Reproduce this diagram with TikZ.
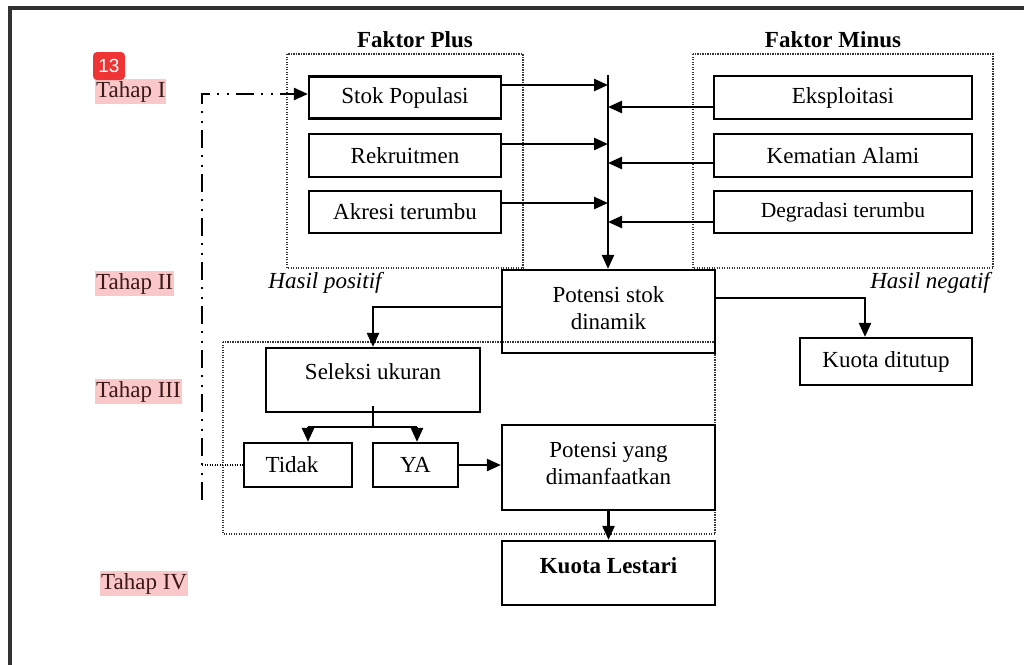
\documentclass[tikz,border=0pt]{standalone}
\usepackage{fontspec}
\setmainfont{Liberation Serif}
\newfontfamily\badgefont{Liberation Sans}
\usetikzlibrary{arrows.meta}
\definecolor{hl}{RGB}{250,200,200}
\definecolor{hltext}{RGB}{60,25,25}
\definecolor{badge}{RGB}{238,52,52}
\definecolor{frame}{RGB}{50,50,50}
\tikzset{
  box/.style={draw, line width=2.2pt, inner sep=0pt, font=\fontsize{23}{27}\selectfont, align=center},
  txt/.style={inner sep=0pt, font=\fontsize{23}{27}\selectfont, align=center},
  conn/.style={line width=2.4pt},
  arr/.style={line width=2.4pt, -{Triangle[length=14pt,width=12pt]}},
  dotbox/.style={line width=1.4pt, draw=black!80, dash pattern=on 1.3pt off 1.2pt},
  dashdd/.style={line width=2.6pt, dash pattern=on 18pt off 7pt on 2pt off 8pt on 2pt off 7pt},
  tahap/.style={fill=hl, text=hltext, inner xsep=1pt, inner ysep=2pt, anchor=west, font=\fontsize{23}{27}\selectfont},
  title/.style={inner sep=0pt, font=\fontsize{23}{27}\selectfont\bfseries},
  hasil/.style={inner sep=0pt, font=\fontsize{23}{27}\selectfont\itshape}
}
\begin{document}
\begin{tikzpicture}[x=1pt,y=-1pt]
\useasboundingbox (0,0) rectangle (1024,664);
\clip (0,0) rectangle (1024,664);
% outer frame
\draw[line width=3.2pt, draw=frame] (1030,8) -- (10,8) -- (10,670);
% dotted group boxes
\draw[dotbox] (287,54) rectangle (523,268);
\draw[dotbox] (693,54) rectangle (993,268);
\draw[dotbox] (223,342) rectangle (715,534);
% titles
\node[title] (fplus) at (415,40) {Faktor Plus};
\node[title] (fminus) at (833,40) {Faktor Minus};
% plus boxes
\node[box, minimum width=192pt, minimum height=42pt] (stok) at (405,97.5) {Stok Populasi};
\node[box, minimum width=192pt, minimum height=43pt] (rek) at (405,155.5) {Rekruitmen};
\node[box, minimum width=192pt, minimum height=42pt] (akr) at (405,212) {Akresi terumbu};
% minus boxes
\node[box, minimum width=258pt, minimum height=43pt] (eks) at (843,97.5) {Eksploitasi};
\node[box, minimum width=258pt, minimum height=43pt] (kem) at (843,155.5) {Kematian Alami};
\node[box, minimum width=258pt, minimum height=42pt, font=\fontsize{21.5}{25}\selectfont] (deg) at (843,212) {Degradasi terumbu};
% central boxes
\node[box, minimum width=213pt, minimum height=83pt] (pot) at (608.5,311.5) {};
\node[txt] (pottxt) at ([yshift=3pt]pot.center) {Potensi stok\\dinamik};
\node[box, minimum width=172pt, minimum height=47pt] (kd) at (886,361.5) {Kuota ditutup};
\node[box, minimum width=214pt, minimum height=64pt] (sel) at (373,380) {};
\node[txt] (seltxt) at ([yshift=8pt]sel.center) {Seleksi ukuran};
\node[box, minimum width=108pt, minimum height=44pt] (tidak) at (298,465) {\hspace*{-12pt}Tidak};
\node[box, minimum width=85pt, minimum height=44pt] (ya) at (415.5,465) {YA};
\node[box, minimum width=213pt, minimum height=85pt] (pym) at (608.5,467.5) {};
\node[txt] (pymtxt) at ([yshift=4pt]pym.center) {Potensi yang\\dimanfaatkan};
\node[box, minimum width=213pt, minimum height=64pt] (kl) at (608.5,573) {};
\node[txt, font=\fontsize{23}{27}\selectfont\bfseries] (kltxt) at ([yshift=7pt]kl.center) {Kuota Lestari};
% hasil labels
\node[hasil] (hpos) at (325,283) {Hasil positif};
\node[hasil, anchor=east] (hneg) at (990,283) {Hasil negatif};
% tahap labels
\node[tahap] (t1) at (95,91.5) {Tahap I};
\node[tahap] (t2) at (95,283.5) {Tahap II};
\node[tahap] (t3) at (95,391.5) {Tahap III};
\node[tahap] (t4) at (100,583.5) {Tahap IV};
% badge
\node[fill=badge, rounded corners=4pt, minimum width=32pt, minimum height=28pt, inner sep=0pt, text=white, font=\badgefont\fontsize{19}{19}\selectfont] (badge) at (109,66) {13};
% vertical collector
\coordinate (vtop) at (608,75);
\draw[arr] (vtop) -- (vtop |- pot.north);
\coordinate (p1) at (608,85);
\coordinate (p2) at (608,144);
\coordinate (p3) at (608,203);
\coordinate (m1) at (608,107);
\coordinate (m2) at (608,163);
\coordinate (m3) at (608,222);
\draw[arr] (stok.east |- p1) -- (p1);
\draw[arr] (rek.east |- p2) -- (p2);
\draw[arr] (akr.east |- p3) -- (p3);
\draw[arr] (eks.west |- m1) -- (m1);
\draw[arr] (kem.west |- m2) -- (m2);
\draw[arr] (deg.west |- m3) -- (m3);
% potensi stok outputs
\coordinate (c1) at (373,307);
\draw[arr] (pot.west |- c1) -- (c1) -- (sel.north);
\coordinate (c2) at (865,298);
\draw[arr] (pot.east |- c2) -- (c2) -- (c2 |- kd.north);
% seleksi branch
\coordinate (b1) at (373,406);
\coordinate (b2) at (373,427);
\coordinate (bl) at (308,427);
\coordinate (br) at (417,427);
\draw[conn] (b1) -- (b2);
\draw[conn] (bl) -- (br);
\draw[arr] (bl) -- (bl |- tidak.north);
\draw[arr] (br) -- (br |- ya.north);
\draw[arr] (ya.east) -- (ya.east -| pym.west);
\draw[arr] (pym.south) -- (kl.north);
% feedback dash-dot line
\coordinate (d1) at (202,94);
\coordinate (d2) at (202,500);
\draw[dashdd] (d2) -- (d1) -- ([xshift=-12pt]stok.west |- d1);
\draw[arr] ([xshift=-14pt]stok.west |- d1) -- (stok.west |- d1);
\draw[line width=1.4pt, dash pattern=on 1.3pt off 1.2pt] (d1 |- tidak.west) -- (tidak.west);
\end{tikzpicture}
\end{document}
